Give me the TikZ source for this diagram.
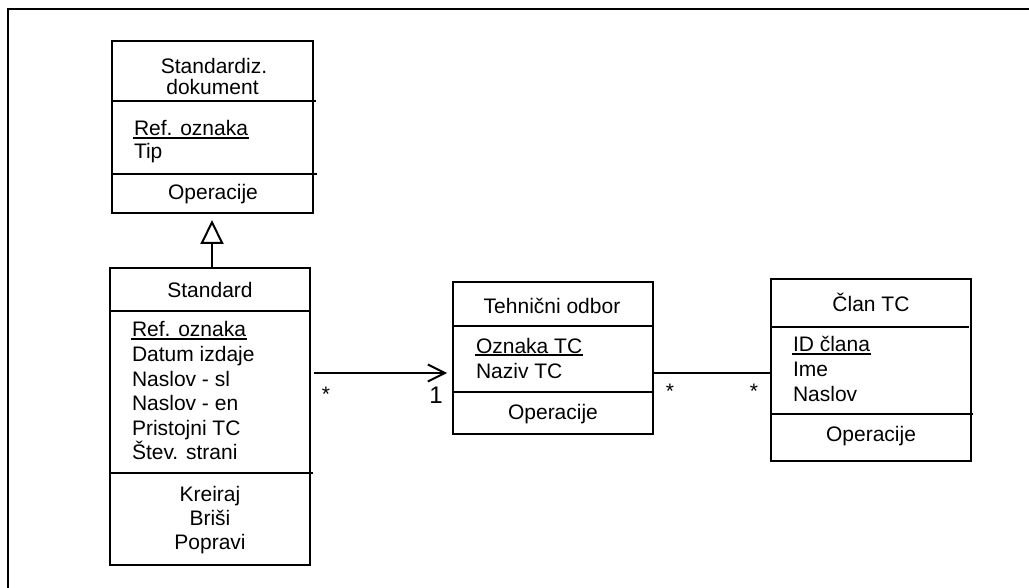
\documentclass[tikz,border=0pt]{standalone}
\usepackage{fontspec}
\setmainfont{Liberation Sans}
\usetikzlibrary{arrows.meta}
\begin{document}
\begin{tikzpicture}[x=1pt,y=-1pt,line width=2pt,
  every node/.style={inner sep=0pt,font=\fontsize{21}{24.4}\selectfont},
  umlbox/.style={draw,rectangle,line width=2pt},
  attr/.style={anchor=base west},
  ctr/.style={anchor=base},
  uline/.style={line width=1.7pt},
  mult/.style={anchor=base}]
\useasboundingbox (0,0) rectangle (1029,588);
% outer frame (only top and left edges visible)
\draw (7.5,588) -- (7.5,9.5) -- (1029,9.5);

% ---- Standardiz. dokument
\node[umlbox,minimum width=201pt,minimum height=172pt] (sd) at (212.5,127) {};
\draw (112,100.7) -- (316,100.7);
\draw (112,173.7) -- (317,173.7);
\node[ctr] (sdt1) at (214,74) {Standardiz.};
\node[ctr] (sdt2) at (212.5,95) {dokument};
\node[attr] (sda1) at (133,136) {Ref. oznaka};
\node[attr] (sda2) at (133,159) {Tip};
\node[ctr] (sdo) at (213,200) {Operacije};
\draw[uline] ([yshift=-2.2pt]sda1.base west) -- ([yshift=-2.2pt]sda1.base east);

% ---- Standard
\node[umlbox,minimum width=200pt,minimum height=297pt] (std) at (210,416.5) {};
\draw (110,311) -- (310,311);
\draw (110,473) -- (313,473);
\node[ctr] (stdt) at (210,298) {Standard};
\node[attr] (stda1) at (131,337) {Ref. oznaka};
\node[attr] (stda2) at (131,361.5) {Datum izdaje};
\node[attr] (stda3) at (131,386) {Naslov - sl};
\node[attr] (stda4) at (131,410.5) {Naslov - en};
\node[attr] (stda5) at (131,435) {Pristojni TC};
\node[attr] (stda6) at (131,459.5) {Štev. strani};
\draw[uline] ([yshift=-2.2pt]stda1.base west) -- ([yshift=-2.2pt]stda1.base east);
\node[ctr] (stdo1) at (210,501.5) {Kreiraj};
\node[ctr] (stdo2) at (210,525.5) {Briši};
\node[ctr] (stdo3) at (210,549.5) {Popravi};

% ---- Tehnični odbor
\node[umlbox,minimum width=200pt,minimum height=152pt] (tc) at (553,358) {};
\draw (453,326.5) -- (653,326.5);
\draw (453,392) -- (653,392);
\node[ctr] (tct) at (552,314) {Tehnični odbor};
\node[attr] (tca1) at (475,353) {Oznaka TC};
\node[attr] (tca2) at (475,378) {Naziv TC};
\draw[uline] ([yshift=-2.2pt]tca1.base west) -- ([yshift=-2.2pt]tca1.base east);
\node[ctr] (tco) at (553,419) {Operacije};

% ---- Član TC
\node[umlbox,minimum width=200pt,minimum height=182pt] (cl) at (871,370) {};
\draw (771,327) -- (969,327);
\draw (771,414) -- (973,414);
\node[ctr] (clt) at (871,312) {Član TC};
\node[attr] (cla1) at (792,352) {ID člana};
\node[attr] (cla2) at (792,377) {Ime};
\node[attr] (cla3) at (792,401) {Naslov};
\draw[uline] ([yshift=-2.2pt]cla1.base west) -- ([yshift=-2.2pt]cla1.base east);
\node[ctr] (clo) at (871,441) {Operacije};

% ---- connectors
\coordinate (assocY) at (0,373);
\draw[-{Triangle[open,length=24pt,width=23pt,line width=2pt]},shorten >=6pt]
  (std.north -| 212,0) -- (sd.south -| 212,0);
\draw[-{Straight Barb[length=17pt,width=17pt,line width=2pt]}]
  ([xshift=3pt]std.east |- assocY) -- ([xshift=-5pt]tc.west |- assocY);
\draw ([xshift=-1pt]tc.east |- assocY) -- (cl.west |- assocY);

% ---- multiplicities
\node[mult] (m1) at (326,401) {*};
\node[mult,font=\fontsize{24}{28}\selectfont] (m2) at (436,403) {1};
\node[mult] (m3) at (670,398) {*};
\node[mult] (m4) at (754,398) {*};
\end{tikzpicture}
\end{document}
